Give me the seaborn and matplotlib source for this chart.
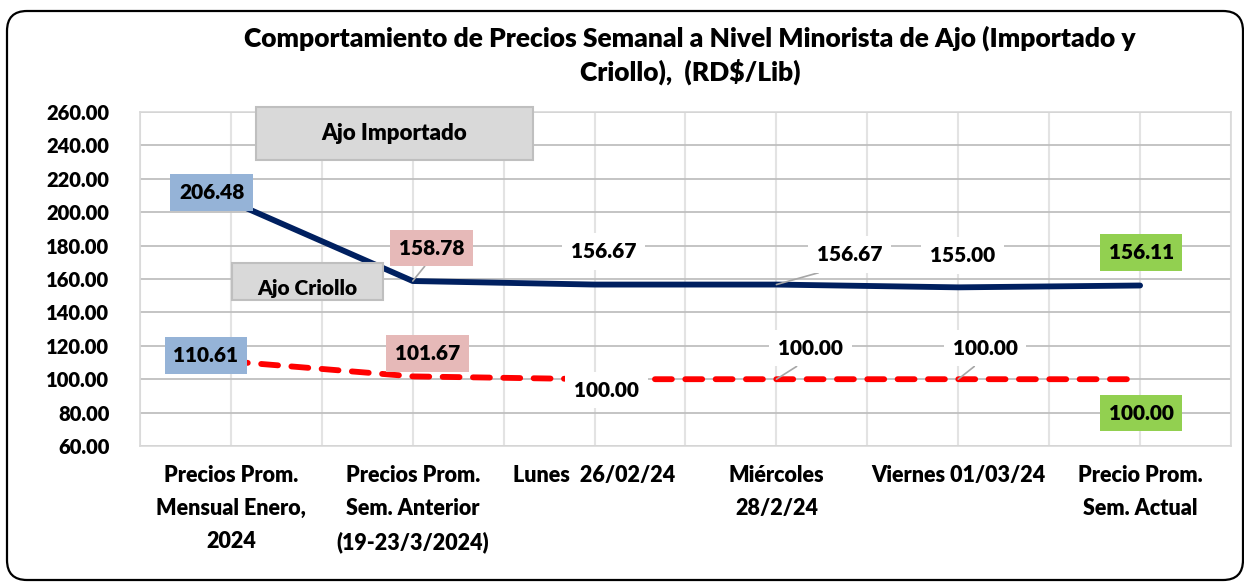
import numpy as np
import pandas as pd
import matplotlib
matplotlib.use('Agg')
import matplotlib.pyplot as plt
import seaborn as sns
from matplotlib.patches import Rectangle, FancyBboxPatch
from matplotlib.transforms import IdentityTransform

# datos
fechas = ['Precios Prom.\nMensual Enero,\n2024',
          'Precios Prom.\nSem. Anterior\n(19-23/3/2024)',
          'Lunes  26/02/24',
          'Miércoles\n28/2/24',
          'Viernes 01/03/24',
          'Precio Prom.\nSem. Actual']
importado = [206.48, 158.78, 156.67, 156.67, 155.00, 156.11]
criollo = [110.61, 101.67, 100.00, 100.00, 100.00, 100.00]
y_ticks = [60, 80, 100, 120, 140, 160, 180, 200, 220, 240, 260]

titulo = 'Comportamiento de Precios Semanal a Nivel Minorista de Ajo (Importado y\nCriollo),  (RD$/Lib)'

df = pd.DataFrame({
    'fecha': fechas * 2,
    'precio': importado + criollo,
    'tipo': ['Ajo Importado'] * len(fechas) + ['Ajo Criollo'] * len(fechas),
})

# estilo de etiquetas (color de fondo, desplazamiento en px, linea guia)
fondo_etq = ['#95b3d7', '#e6b9b8', 'white', 'white', 'white', '#92d050']
off_imp = [(-19, 9), (19, 33), (9, 33), (73, 30), (4, 32), (1, 33)]
off_cri = [(-25, 6), (15, 23), (12, -11), (34, 31), (27, 31), (1, -34)]
guia_imp = [False, True, False, True, False, False]
guia_cri = [False, False, False, True, True, False]

sns.set_style('white')
plt.rcParams['font.family'] = ['Lato', 'DejaVu Sans']
plt.rcParams['text.color'] = 'black'
plt.rcParams['xtick.color'] = 'black'
plt.rcParams['ytick.color'] = 'black'
PESO = 'heavy'

W, H = 1244, 583
fig = plt.figure(figsize=(W / 100, H / 100), dpi=100)
fig.patch.set_facecolor('white')
ax = fig.add_axes([140 / W, 1 - 446 / H, (1231 - 140) / W, (446 - 112) / H])

sns.lineplot(data=df, x='fecha', y='precio', hue='tipo', style='tipo',
             palette={'Ajo Importado': '#002060', 'Ajo Criollo': '#ff0000'},
             dashes={'Ajo Importado': '', 'Ajo Criollo': (2.9, 2.3)},
             linewidth=4.2, sort=False, legend=False, ax=ax, zorder=3)
for ln in ax.lines:
    ln.set_solid_capstyle('round')
    ln.set_dash_capstyle('round')
    ln.set_solid_joinstyle('round')

ax.set_xlim(-0.5, 5.5)
ax.set_ylim(60, 260)
ax.set_yticks(y_ticks)
ax.set_yticklabels([f'{v:.2f}' for v in y_ticks], fontsize=14.5, fontweight=PESO)
ax.set_xticks(range(len(fechas)))
ax.set_xticklabels(fechas, fontsize=15.5, fontweight=PESO, linespacing=1.68)
ax.set_xticks(np.arange(-0.5, 6, 1.0), minor=True)
ax.tick_params(axis='both', which='both', length=0)
ax.tick_params(axis='y', pad=22)
ax.tick_params(axis='x', pad=14)
ax.set_xlabel('')
ax.set_ylabel('')

ax.grid(axis='y', color='#bfbfbf', linewidth=1.3)
ax.grid(axis='x', which='both', color='#e3e3e3', linewidth=1.5)
ax.set_axisbelow(True)
for s in ax.spines.values():
    s.set_color('#d9d9d9')
    s.set_linewidth(1.2)


def etiquetas(valores, offs, guias):
    for i, v in enumerate(valores):
        kw = {}
        if guias[i]:
            kw['arrowprops'] = dict(arrowstyle='-', color='#a6a6a6', lw=1.2,
                                    relpos=(0.5, 0), shrinkA=0, shrinkB=0)
        ax.annotate(f'{v:.2f}', xy=(i, v), xytext=offs[i], textcoords='offset pixels',
                    ha='center', va='center', fontsize=15, fontweight=PESO, zorder=5,
                    bbox=dict(boxstyle='square,pad=0.42', fc=fondo_etq[i], ec='none'), **kw)


etiquetas(importado, off_imp, guia_imp)
etiquetas(criollo, off_cri, guia_cri)

# cajas de leyenda
ident = IdentityTransform()
fig.add_artist(Rectangle((256, H - 160), 277, 53, transform=ident,
                         fc='#d9d9d9', ec='#bfbfbf', lw=1.5, zorder=6))
fig.text(394 / W, 1 - 134 / H, 'Ajo Importado', ha='center', va='center',
         fontsize=16, fontweight=PESO, zorder=7)
fig.add_artist(Rectangle((232, H - 300), 151, 37, transform=ident,
                         fc='#d9d9d9', ec='#bfbfbf', lw=1.5, zorder=6))
fig.text(307 / W, 1 - 289 / H, 'Ajo Criollo', ha='center', va='center',
         fontsize=15, fontweight=PESO, zorder=7)

fig.text(690 / W, 1 - 55 / H, titulo, ha='center', va='center',
         fontsize=19, fontweight=PESO, linespacing=1.35)

# marco redondeado
fig.add_artist(FancyBboxPatch((7, H - 580), 1236, 569, transform=ident,
                              boxstyle='round,pad=0,rounding_size=20',
                              fc='none', ec='black', lw=1.6, zorder=10))

fig.savefig('out.png', dpi=100)
